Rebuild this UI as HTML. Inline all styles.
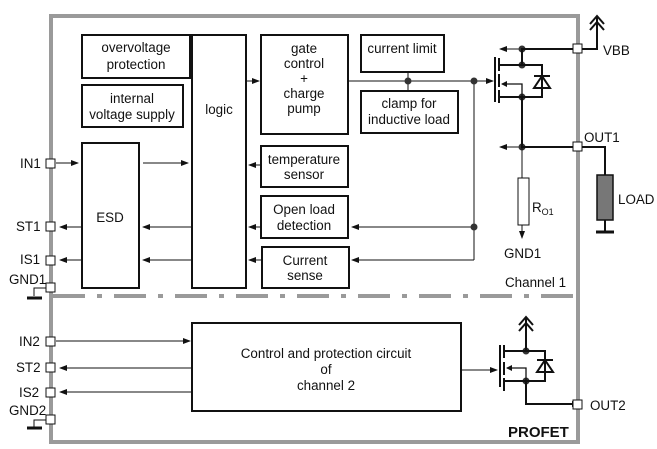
<!DOCTYPE html>
<html><head><meta charset="utf-8"><style>
html,body{margin:0;padding:0;background:#fff;}
svg{display:block;font-family:"Liberation Sans",Arial,sans-serif;}
text{fill:#111;}
</style></head><body>
<svg width="657" height="449" viewBox="0 0 657 449" xmlns="http://www.w3.org/2000/svg">
<defs>
<marker id="a" markerWidth="8" markerHeight="6" refX="7" refY="3" orient="auto" markerUnits="userSpaceOnUse"><path d="M0,0 L8,3 L0,6 z" fill="#111"/></marker>
</defs>
<rect x="51" y="16" width="527" height="426" fill="none" stroke="#9a9a9a" stroke-width="4"/>
<line x1="53" y1="296" x2="576" y2="296" stroke="#9a9a9a" stroke-width="4" stroke-dasharray="32,12,5,12"/>
<g fill="none" stroke="#111" stroke-width="2">
<rect x="82" y="35" width="108" height="43"/>
<rect x="82" y="85" width="101" height="42"/>
<rect x="192" y="35" width="54" height="253"/>
<rect x="261" y="35" width="87" height="99"/>
<rect x="361" y="35" width="83" height="37"/>
<rect x="361" y="91" width="97" height="42"/>
<rect x="261" y="146" width="87" height="41"/>
<rect x="261" y="196" width="87" height="42"/>
<rect x="262" y="247" width="87" height="41"/>
<rect x="82" y="143" width="57" height="145"/>
<rect x="192" y="323" width="269" height="88"/>
</g>
<g font-size="13.4">
<text x="136" y="52" text-anchor="middle">overvoltage</text>
<text x="136" y="69" text-anchor="middle">protection</text>
<text x="132" y="103" text-anchor="middle">internal</text>
<text x="132" y="119" text-anchor="middle">voltage supply</text>
<text x="219" y="114" text-anchor="middle">logic</text>
<text x="304" y="53" text-anchor="middle">gate</text>
<text x="304" y="68" text-anchor="middle">control</text>
<text x="304" y="83" text-anchor="middle">+</text>
<text x="304" y="98" text-anchor="middle">charge</text>
<text x="304" y="113" text-anchor="middle">pump</text>
<text x="402" y="53" text-anchor="middle">current limit</text>
<text x="409" y="108" text-anchor="middle">clamp for</text>
<text x="409" y="124" text-anchor="middle">inductive load</text>
<text x="304" y="164" text-anchor="middle">temperature</text>
<text x="304" y="179" text-anchor="middle">sensor</text>
<text x="304" y="214" text-anchor="middle">Open load</text>
<text x="304" y="230" text-anchor="middle">detection</text>
<text x="305" y="265" text-anchor="middle">Current</text>
<text x="305" y="280" text-anchor="middle">sense</text>
<text x="110" y="222" text-anchor="middle">ESD</text>
<text x="326" y="358" text-anchor="middle">Control and protection circuit</text>
<text x="326" y="374" text-anchor="middle">of</text>
<text x="326" y="390" text-anchor="middle">channel 2</text>
<text x="505" y="287">Channel 1</text>
<text x="508" y="437" font-weight="bold" font-size="15">PROFET</text>
<text x="20" y="168">IN1</text>
<text x="16" y="231">ST1</text>
<text x="20" y="264">IS1</text>
<text x="9" y="284">GND1</text>
<text x="19" y="346">IN2</text>
<text x="16" y="372">ST2</text>
<text x="19" y="397">IS2</text>
<text x="9" y="415">GND2</text>
<text x="603" y="55">VBB</text>
<text x="584" y="142">OUT1</text>
<text x="618" y="204">LOAD</text>
<text x="532" y="212">R<tspan font-size="9" dy="3">O1</tspan></text>
<text x="504" y="258">GND1</text>
<text x="590" y="410">OUT2</text>
</g>
<g stroke="#111" stroke-width="1" fill="none" marker-end="url(#a)">
<line x1="56" y1="163" x2="78" y2="163"/>
<line x1="143" y1="163" x2="188" y2="163"/>
<line x1="81" y1="227" x2="60" y2="227"/>
<line x1="191" y1="227" x2="143" y2="227"/>
<line x1="81" y1="260" x2="60" y2="260"/>
<line x1="191" y1="260" x2="143" y2="260"/>
<line x1="246" y1="81" x2="259" y2="81"/>
<line x1="260" y1="165" x2="249" y2="165"/>
<line x1="260" y1="227" x2="249" y2="227"/>
<line x1="261" y1="260" x2="249" y2="260"/>
<line x1="474" y1="227" x2="352" y2="227"/>
<line x1="474" y1="260" x2="352" y2="260"/>
<line x1="474" y1="81" x2="493" y2="81"/>
<line x1="522" y1="49" x2="500" y2="49"/>
<line x1="522" y1="147" x2="500" y2="147"/>
<line x1="56" y1="341" x2="190" y2="341"/>
<line x1="192" y1="368" x2="60" y2="368"/>
<line x1="192" y1="392" x2="60" y2="392"/>
<line x1="461" y1="370" x2="497" y2="370"/>
</g>
<g stroke="#111" stroke-width="1" fill="none">
<line x1="348" y1="81" x2="474" y2="81"/>
<line x1="474" y1="81" x2="474" y2="260"/>
<line x1="408" y1="72" x2="408" y2="91"/>
</g>
<g fill="#333">
<circle cx="408" cy="81" r="3.5"/><circle cx="474" cy="81" r="3.5"/><circle cx="474" cy="227" r="3.5"/>
<circle cx="522" cy="49" r="3.5"/><circle cx="522" cy="65" r="3.5"/><circle cx="522" cy="97" r="3.5"/><circle cx="522" cy="147" r="3.5"/>
<circle cx="526" cy="351" r="3.5"/><circle cx="526" cy="381" r="3.5"/>
</g>
<g stroke="#111" stroke-width="2" fill="none">
<line x1="495" y1="57" x2="495" y2="102"/>
<line x1="499" y1="58" x2="499" y2="71"/><line x1="499" y1="74" x2="499" y2="87"/><line x1="499" y1="90" x2="499" y2="103"/>
<polyline points="499,65 522,65 522,49 578,49 597,49 597,17"/>
<polyline points="590,24 597,16 604,24"/><polyline points="590,30 597,22 604,30"/>
<polyline points="499,97 522,97 522,147 605,147 605,176"/>
<polyline points="522,65 542,65 542,97 522,97"/>
<path d="M534,88 L550,88 L542,76 z M534,76 L550,76"/>
<polyline points="522,97 522,84 502,84" stroke-width="1.3"/>
<line x1="596" y1="232" x2="614" y2="232" stroke-width="3"/>
<line x1="605" y1="220" x2="605" y2="232"/>
</g>
<path d="M507,81 L501,84 L507,87 z" fill="#111"/>
<rect x="597" y="175" width="16" height="45" fill="#777" stroke="#111" stroke-width="1.5"/>
<rect x="518" y="178" width="11" height="47" fill="#fff" stroke="#111" stroke-width="1"/>
<line x1="522" y1="147" x2="522" y2="178" stroke="#111" stroke-width="1"/>
<line x1="522" y1="225" x2="522" y2="238" stroke="#111" stroke-width="1" marker-end="url(#a)"/>
<g stroke="#111" stroke-width="2" fill="none">
<line x1="500" y1="345" x2="500" y2="387"/>
<line x1="504" y1="345" x2="504" y2="358"/><line x1="504" y1="362" x2="504" y2="375"/><line x1="504" y1="378" x2="504" y2="391"/>
<polyline points="504,351 526,351 526,318"/>
<polyline points="519,325 526,317 533,325"/><polyline points="519,331 526,323 533,331"/>
<polyline points="504,381 526,381 526,404 572,404"/>
<polyline points="526,351 545,351 545,381 526,381"/>
<path d="M537,372 L553,372 L545,360 z M537,360 L553,360"/>
<polyline points="526,381 526,368 507,368" stroke-width="1.3"/>
</g>
<path d="M572,401 L578,404 L572,407 z" fill="#111"/>
<path d="M512,365 L506,368 L512,371 z" fill="#111"/>
<g stroke="#111" fill="none">
<polyline points="50,288 34,288 34,296" stroke-width="1"/>
<line x1="27" y1="298" x2="42" y2="298" stroke-width="3"/>
<polyline points="50,420 34,420 34,427" stroke-width="1"/>
<line x1="27" y1="428" x2="42" y2="428" stroke-width="3"/>
</g>
<g fill="#fff" stroke="#111" stroke-width="1">
<rect x="46" y="159" width="9" height="9"/><rect x="46" y="222" width="9" height="9"/><rect x="46" y="256" width="9" height="9"/><rect x="46" y="283" width="9" height="9"/>
<rect x="46" y="337" width="9" height="9"/><rect x="46" y="363" width="9" height="9"/><rect x="46" y="388" width="9" height="9"/><rect x="46" y="415" width="9" height="9"/>
<rect x="573" y="44" width="9" height="9"/><rect x="573" y="142" width="9" height="9"/><rect x="573" y="400" width="9" height="9"/>
</g>
</svg>
</body></html>
